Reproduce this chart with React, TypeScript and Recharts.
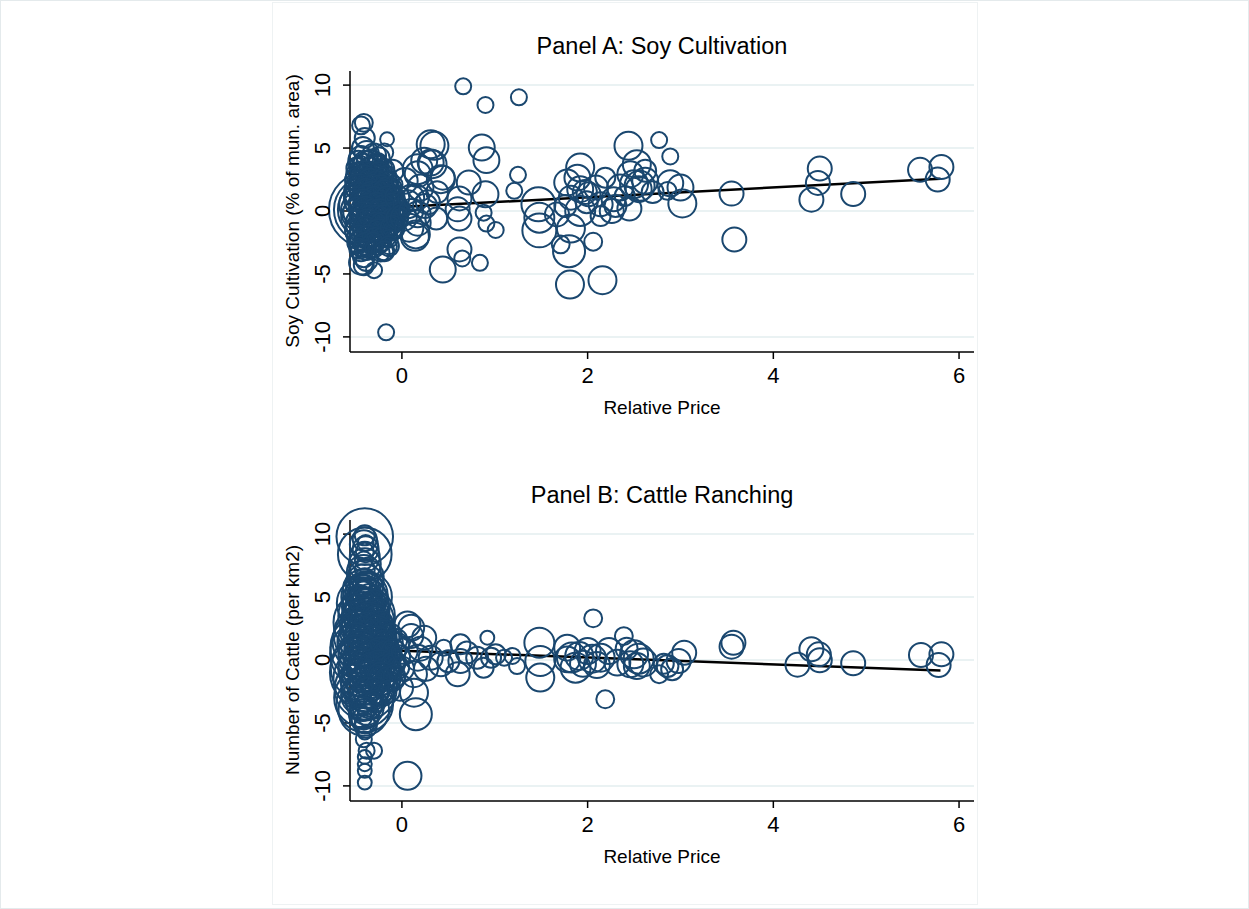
import React from 'react';
import { ScatterChart, Scatter, XAxis, YAxis, ZAxis, CartesianGrid } from 'recharts';

// [relative price, outcome, weight]
type Pt = [number, number, number];

const xTicks = [0, 2, 4, 6];
const yTicks = [-10, -5, 0, 5, 10];

// ─── Panel A data ─────────────────────────────────────────────────────────────

const soyCore: Pt[] = [
  [-0.38, 0.1, 355], [-0.38, 0.1, 267], [-0.38, 0.1, 206],
  [-0.42, 3.0, 36], [-0.35, 2.8, 49], [-0.28, 2.6, 42], [-0.22, 2.9, 30], [-0.45, 2.4, 56],
  [-0.40, 2.0, 64], [-0.33, 2.1, 49], [-0.26, 1.9, 56], [-0.18, 2.2, 36], [-0.12, 1.8, 30],
  [-0.44, 1.5, 72], [-0.36, 1.4, 64], [-0.30, 1.6, 81], [-0.22, 1.3, 49], [-0.15, 1.5, 42],
  [-0.42, 1.0, 90], [-0.34, 0.9, 72], [-0.27, 1.1, 64], [-0.20, 0.8, 56], [-0.10, 1.0, 36],
  [-0.46, 0.5, 100], [-0.38, 0.4, 81], [-0.31, 0.6, 90], [-0.24, 0.3, 64], [-0.16, 0.5, 49], [-0.08, 0.4, 36],
  [-0.43, 0.0, 110], [-0.35, -0.1, 90], [-0.28, 0.1, 72], [-0.21, -0.1, 64], [-0.13, 0.0, 42], [-0.05, 0.1, 30],
  [-0.45, -0.5, 90], [-0.37, -0.6, 81], [-0.30, -0.4, 64], [-0.23, -0.6, 56], [-0.15, -0.5, 42],
  [-0.41, -1.0, 81], [-0.33, -1.1, 64], [-0.26, -0.9, 56], [-0.19, -1.2, 42], [-0.11, -1.0, 30],
  [-0.44, -1.5, 64], [-0.36, -1.6, 56], [-0.29, -1.4, 49], [-0.22, -1.7, 36],
  [-0.40, -2.0, 56], [-0.32, -2.1, 49], [-0.25, -2.3, 36], [-0.18, -2.0, 30],
  [-0.43, -2.6, 42], [-0.35, -2.8, 36], [-0.27, -2.6, 30],
  [-0.41, -3.6, 30], [-0.44, -4.1, 36], [-0.38, -3.9, 30], [-0.41, -4.3, 25], [-0.30, -4.7, 16],
  [-0.19, -3.2, 20], [-0.14, -2.8, 16], [-0.44, -3.2, 25],
  [-0.41, 7.0, 20], [-0.44, 6.8, 20], [-0.40, 5.8, 25], [-0.42, 5.0, 30], [-0.38, 4.6, 36],
  [-0.30, 4.4, 36], [-0.25, 4.2, 30], [-0.35, 3.8, 42], [-0.44, 4.2, 36], [-0.16, 5.7, 12],
  [-0.19, 4.65, 20], [-0.28, 3.5, 42], [-0.20, 3.3, 30], [-0.10, 3.2, 30], [-0.45, 3.5, 30],
  [-0.40, 1.2, 25], [-0.32, 0.2, 25], [-0.24, -0.3, 20], [-0.36, -1.3, 25], [-0.28, 1.8, 20],
  [-0.42, -0.3, 30], [-0.18, 0.0, 25], [-0.30, -0.9, 20], [-0.38, 2.4, 25], [-0.25, 1.0, 20],
  [-0.47, 4.0, 25], [-0.40, 3.9, 30], [-0.33, 4.1, 25], [-0.26, 3.9, 20],
  [-0.48, 3.4, 30], [-0.41, 3.6, 36], [-0.34, 3.4, 30], [-0.27, 3.6, 25], [-0.20, 3.4, 20],
  [-0.47, 2.9, 36], [-0.39, 3.1, 30], [-0.32, 2.9, 36], [-0.25, 3.1, 25], [-0.17, 2.8, 25],
  [-0.48, 2.5, 36], [-0.41, 2.6, 42], [-0.34, 2.4, 36], [-0.27, 2.3, 30], [-0.20, 2.6, 25], [-0.13, 2.4, 20],
  [-0.47, 1.9, 42], [-0.38, 1.8, 36], [-0.31, 2.0, 30], [-0.23, 1.9, 36], [-0.16, 1.9, 25], [-0.09, 2.1, 20],
  [-0.48, 1.2, 42], [-0.39, 1.6, 36], [-0.33, 1.3, 42], [-0.26, 1.5, 30], [-0.19, 1.6, 30], [-0.11, 1.3, 25],
  [-0.47, 0.8, 49], [-0.37, 1.1, 36], [-0.30, 0.9, 42], [-0.23, 0.7, 36], [-0.16, 1.1, 30], [-0.07, 0.7, 25],
  [-0.42, 0.6, 49], [-0.35, 0.4, 42], [-0.27, 0.5, 36], [-0.20, 0.4, 30], [-0.12, 0.6, 25], [-0.02, 0.3, 20],
  [-0.47, -0.1, 56], [-0.39, 0.1, 42], [-0.31, -0.1, 42], [-0.24, 0.0, 36], [-0.17, -0.2, 30], [-0.09, -0.1, 25], [-0.01, 0.0, 20],
  [-0.41, -0.4, 49], [-0.34, -0.6, 42], [-0.27, -0.5, 36], [-0.19, -0.4, 30], [-0.11, -0.6, 25],
  [-0.47, -1.0, 42], [-0.37, -0.9, 42], [-0.29, -1.1, 36], [-0.22, -1.0, 30], [-0.14, -1.2, 25], [-0.07, -0.9, 20],
  [-0.48, -1.6, 36], [-0.40, -1.4, 36], [-0.32, -1.6, 30], [-0.25, -1.5, 30], [-0.17, -1.6, 25], [-0.10, -1.5, 20],
  [-0.46, -2.1, 36], [-0.37, -2.0, 30], [-0.29, -2.2, 30], [-0.21, -2.1, 25], [-0.14, -2.2, 20],
  [-0.47, -2.5, 30], [-0.39, -2.6, 30], [-0.31, -2.5, 25], [-0.23, -2.6, 20],
  [-0.46, -3.0, 25], [-0.38, -3.1, 25], [-0.30, -3.0, 20], [-0.23, -3.3, 20],
];

const soySpread: Pt[] = [
  [0.66, 9.9, 16], [0.90, 8.42, 16], [1.26, 9.03, 16], [-0.17, -9.64, 16],
  [1.25, 2.87, 16], [1.21, 1.6, 16], [1.47, 0.53, 72], [1.48, -0.53, 56], [1.48, -1.54, 72],
  [1.71, -2.65, 20], [1.80, -3.19, 64], [1.81, -5.84, 49], [2.16, -5.5, 49], [2.06, -2.44, 20],
  [2.44, 5.18, 49], [2.77, 5.63, 16], [2.89, 4.33, 16], [1.92, 3.45, 49], [1.78, 2.26, 42],
  [1.89, 2.65, 42], [1.92, 1.73, 42], [1.82, 1.06, 36], [1.82, -1.4, 49], [1.67, -0.27, 36],
  [1.92, 0.0, 56], [2.14, -0.4, 25], [2.09, 1.86, 36], [2.19, 2.65, 25], [2.28, 0.93, 36],
  [2.26, 0.0, 36], [2.35, 1.86, 42], [2.46, 2.92, 42], [2.53, 3.72, 49], [2.50, 2.13, 49],
  [2.55, 1.73, 42], [2.89, 2.2, 42], [3.0, 1.86, 42], [3.02, 0.6, 49], [2.86, 1.6, 20],
  [2.01, 1.33, 36], [2.14, 0.53, 36], [3.55, 1.38, 36], [3.58, -2.26, 36], [4.50, 3.37, 36],
  [4.48, 2.23, 36], [4.41, 0.9, 36], [4.86, 1.35, 36], [5.58, 3.27, 36], [5.81, 3.5, 36],
  [5.77, 2.5, 36], [0.31, 5.3, 49], [0.35, 5.18, 49], [0.86, 5.04, 42], [0.91, 4.04, 42],
  [0.33, 3.72, 49], [0.44, 2.65, 36], [0.72, 2.26, 36], [0.90, 1.33, 42], [0.62, 1.0, 36],
  [0.60, 0.13, 36], [0.62, -0.6, 36], [0.88, -0.13, 16], [0.91, -1.0, 16], [1.01, -1.51, 16],
  [0.62, -3.05, 36], [0.65, -3.77, 16], [0.84, -4.12, 16], [0.44, -4.65, 42], [2.62, 2.4, 42],
  [2.56, 2.0, 56], [2.40, 1.2, 25], [2.30, 0.4, 30], [1.99, 0.7, 30], [2.70, 1.5, 30],
  [1.97, 1.5, 36], [0.15, -1.86, 49], [0.17, -0.27, 42], [0.10, 1.06, 42], [0.17, 2.92, 42],
  [0.24, 4.0, 42], [0.28, 0.7, 36], [0.37, -0.6, 30], [0.38, 1.5, 30], [2.62, 3.2, 30],
  [2.45, 0.2, 36], [1.76, 0.4, 30],
  [-0.05, 1.06, 36], [-0.10, -1.33, 36], [-0.05, -0.53, 30], [0.03, 2.39, 42], [0.06, 0.53, 49],
  [0.02, -0.53, 42], [0.08, -1.33, 49], [0.14, -2.05, 49], [0.17, -0.93, 42], [0.15, 1.06, 42],
  [0.20, 1.86, 42], [0.17, 3.32, 56], [0.31, 3.85, 42], [0.42, 2.53, 49], [0.10, 0.0, 36],
  [0.25, 0.4, 36], [-0.14, -2.79, 25], [-0.19, -3.19, 25],
];

const soyFitX = [-0.5, 5.8];
const soyFitY = [0.13, 2.56];

// ─── Panel B data ─────────────────────────────────────────────────────────────

const cattleCore: Pt[] = [
  [-0.40, 0.5, 300], [-0.39, -1.5, 260], [-0.40, 2.0, 240], [-0.41, -3.0, 220], [-0.38, 3.5, 200],
  [-0.40, 9.8, 200], [-0.40, 8.4, 180], [-0.41, 1.0, 280], [-0.40, -0.6, 290], [-0.42, 4.5, 170],
  [-0.39, -2.3, 240], [-0.40, -3.5, 200], [-0.41, 3.0, 230], [-0.39, -1.0, 320], [-0.40, 1.5, 260],
  [-0.38, 5.0, 160], [-0.41, -4.0, 160],
  [-0.40, 9.9, 25], [-0.40, 9.6, 36], [-0.41, 9.2, 49], [-0.39, 8.8, 42], [-0.40, 8.2, 56],
  [-0.40, 7.6, 64], [-0.41, 7.0, 72], [-0.39, 6.6, 81], [-0.40, 6.1, 90], [-0.42, 5.6, 100],
  [-0.38, 5.2, 110], [-0.40, 4.8, 120], [-0.43, 4.2, 100], [-0.37, 3.9, 120], [-0.41, 3.2, 130],
  [-0.39, 2.7, 140], [-0.42, 2.3, 130], [-0.36, 1.8, 150], [-0.44, 1.4, 140], [-0.38, 0.9, 160],
  [-0.42, 0.3, 150], [-0.36, -0.2, 140], [-0.44, -0.7, 130], [-0.38, -1.1, 150], [-0.42, -1.8, 120],
  [-0.36, -2.2, 110], [-0.44, -2.8, 100], [-0.40, -3.3, 90], [-0.38, -3.8, 72], [-0.41, -4.3, 56],
  [-0.40, -4.8, 42], [-0.39, -5.3, 30], [-0.40, -5.77, 12], [-0.41, -6.3, 16], [-0.38, -7.2, 16],
  [-0.30, -7.2, 16], [-0.40, -7.7, 12], [-0.40, -8.28, 12], [-0.40, -8.8, 12], [-0.40, -9.74, 12],
  [-0.40, 5.5, 30], [-0.40, 4.8, 36], [-0.41, 4.0, 42], [-0.39, 3.5, 49], [-0.40, 2.8, 56],
  [-0.38, 2.1, 64], [-0.42, 1.5, 64], [-0.40, 0.8, 72], [-0.39, 0.0, 72], [-0.41, -0.8, 64],
  [-0.40, -1.6, 56], [-0.38, -2.4, 49], [-0.41, -3.1, 42], [-0.40, -3.8, 36], [-0.40, 6.5, 25],
  [-0.40, 7.2, 25], [-0.41, 7.9, 20], [-0.40, 8.6, 20], [-0.39, 9.3, 16],
  [-0.33, 1.2, 49], [-0.47, 0.8, 49], [-0.30, -0.5, 56], [-0.48, -1.0, 49], [-0.32, 2.8, 42],
  [-0.47, 3.0, 42], [-0.31, -2.0, 42], [-0.48, -2.5, 42], [-0.33, 4.5, 36], [-0.46, 5.0, 36],
  [-0.34, 0.2, 64], [-0.46, 0.2, 64], [-0.28, 0.8, 42], [-0.26, -1.2, 42], [-0.24, 0.3, 36],
  [-0.22, -0.4, 30], [-0.18, 1.0, 36], [-0.15, -0.8, 36], [-0.12, 0.5, 30], [-0.08, -0.2, 30],
  [-0.05, 1.2, 36], [-0.28, 2.0, 36], [-0.27, -2.6, 36], [-0.20, -1.9, 30], [-0.20, 2.4, 30],
  [-0.10, -1.5, 36], [0.0, -0.7, 36], [-0.02, -2.2, 42],
  [-0.44, 6.0, 30], [-0.37, 6.1, 30], [-0.40, 5.8, 36],
  [-0.45, 5.4, 36], [-0.36, 5.6, 36], [-0.41, 5.2, 42],
  [-0.46, 4.9, 42], [-0.35, 5.0, 42], [-0.40, 4.5, 49], [-0.30, 4.7, 30],
  [-0.47, 4.1, 49], [-0.34, 4.0, 49], [-0.41, 3.8, 56], [-0.28, 3.9, 36],
  [-0.48, 3.5, 56], [-0.35, 3.4, 56], [-0.42, 3.1, 56], [-0.27, 3.3, 42], [-0.22, 3.0, 30],
  [-0.49, 2.6, 64], [-0.36, 2.5, 64], [-0.43, 2.2, 64], [-0.26, 2.4, 49], [-0.19, 2.2, 36], [-0.12, 2.0, 30],
  [-0.50, 1.6, 72], [-0.37, 1.4, 72], [-0.44, 1.1, 64], [-0.27, 1.5, 56], [-0.20, 1.3, 42], [-0.12, 1.4, 36], [-0.06, 1.6, 30],
  [-0.50, 0.6, 72], [-0.38, 0.5, 72], [-0.31, 0.3, 64], [-0.23, 0.6, 56], [-0.16, 0.4, 49], [-0.09, 0.7, 36], [-0.03, 0.3, 30],
  [-0.50, -0.4, 72], [-0.40, -0.5, 64], [-0.32, -0.7, 64], [-0.24, -0.4, 56], [-0.17, -0.6, 42], [-0.10, -0.4, 36], [-0.04, -0.6, 30],
  [-0.49, -1.6, 64], [-0.37, -1.4, 64], [-0.29, -1.6, 56], [-0.22, -1.3, 49], [-0.15, -1.5, 36], [-0.08, -1.3, 30],
  [-0.48, -2.4, 56], [-0.36, -2.6, 56], [-0.28, -2.4, 42], [-0.21, -2.7, 36], [-0.14, -2.5, 30],
  [-0.46, -3.4, 42], [-0.35, -3.6, 42], [-0.29, -3.3, 30], [-0.42, -3.9, 36],
  [-0.44, -4.5, 30], [-0.36, -4.4, 30], [-0.40, -5.0, 25],
];

const cattleSpread: Pt[] = [
  [2.06, 3.31, 20], [2.19, -3.12, 20], [3.57, 1.37, 36], [3.55, 1.06, 36], [1.48, 1.37, 56],
  [1.49, -1.4, 49], [1.49, -0.08, 56], [1.24, -0.48, 16], [1.19, 0.32, 16], [1.78, 0.98, 42],
  [1.78, 0.05, 42], [1.87, -0.61, 56], [1.91, 0.32, 49], [2.0, 0.71, 42], [2.14, 0.18, 49],
  [2.23, 0.71, 42], [2.39, 1.9, 20], [2.32, -0.21, 42], [2.5, 0.45, 49], [2.53, -0.48, 42],
  [2.46, -0.34, 42], [2.77, -1.13, 20], [2.86, -0.48, 30], [2.91, -0.74, 30], [3.04, 0.58, 36],
  [2.98, -0.08, 36], [1.01, 0.45, 25], [0.06, 2.83, 42], [0.10, 1.9, 36], [0.24, 1.77, 36],
  [0.17, 0.18, 42], [0.03, 0.71, 42], [0.13, -1.13, 42], [0.31, 0.18, 36], [0.45, 0.98, 16],
  [0.60, -1.13, 36], [0.63, 1.25, 25], [0.63, -0.08, 36], [0.81, 0.18, 30], [0.92, 1.77, 12],
  [0.88, -0.61, 25], [0.96, 0.18, 25], [0.42, -0.34, 36], [1.10, 0.18, 16], [4.26, -0.37, 36],
  [4.41, 0.85, 36], [4.49, 0.45, 36], [4.50, -0.02, 36], [4.86, -0.26, 36], [5.59, 0.4, 36],
  [5.81, 0.45, 36], [5.78, -0.4, 36], [0.06, -9.2, 49], [0.15, -4.31, 64], [0.13, -2.6, 49],
  [0.10, 2.56, 42], [1.83, 0.2, 56], [2.05, 0.1, 49], [2.10, -0.4, 42], [2.55, 0.1, 56],
  [2.60, -0.2, 49], [1.95, -0.3, 42], [0.70, 0.6, 30], [0.50, -0.1, 30], [0.26, -0.7, 36],
  [0.20, 0.9, 36], [2.82, -0.3, 25], [2.42, 0.9, 30],
];

const cattleFitX = [-0.5, 5.8];
const cattleFitY = [0.87, -0.83];

// ─── Styling ──────────────────────────────────────────────────────────────────

const NAVY = '#1a476f';
const FONT = '"Liberation Sans", Arial, Helvetica, sans-serif';
const GRID = '#eaf2f3';

const XTick = (props: any) => {
  const { x, y, payload } = props;
  return (
    <text x={x} y={y + 22} textAnchor="middle" fontSize={22} fontFamily={FONT} fill="#000">
      {payload.value}
    </text>
  );
};

const YTick = (props: any) => {
  const { x, y, payload } = props;
  return (
    <text
      x={x}
      y={y}
      transform={`rotate(-90 ${x} ${y})`}
      textAnchor="middle"
      fontSize={22}
      fontFamily={FONT}
      fill="#000"
    >
      {payload.value}
    </text>
  );
};

interface PanelProps {
  top: number;
  title: string;
  yLabel: string;
  core: Pt[];
  spread: Pt[];
  fitX: number[];
  fitY: number[];
}

const Panel: React.FC<PanelProps> = ({ top, title, yLabel, core, spread, fitX, fitY }) => {
  const points = [...core, ...spread].map(([x, y, w]) => ({ x, y, w }));
  const fit = fitX.map((x, i) => ({ x, y: fitY[i], w: 0 }));
  const axisStyle = { stroke: '#000', strokeWidth: 1.5 };

  return (
    <div style={{ position: 'absolute', left: 272, top, width: 705, height: 450 }}>
      <ScatterChart width={705} height={450} margin={{ top: 70, right: 4, bottom: 69, left: 37 }}>
        <CartesianGrid vertical={false} syncWithTicks stroke={GRID} strokeWidth={2} />
        <XAxis
          type="number"
          dataKey="x"
          domain={[-0.559, 6.161]}
          ticks={xTicks}
          height={30}
          tickSize={7}
          tickMargin={2}
          tick={<XTick />}
          axisLine={axisStyle}
          tickLine={axisStyle}
        />
        <YAxis
          type="number"
          dataKey="y"
          domain={[-11.2, 11.12]}
          ticks={yTicks}
          width={40}
          tickSize={7}
          tickMargin={13}
          tick={<YTick />}
          axisLine={axisStyle}
          tickLine={axisStyle}
        />
        <ZAxis type="number" dataKey="w" domain={[0, 400]} range={[0, 5027]} />
        <Scatter
          data={fit}
          line={{ stroke: '#000', strokeWidth: 2.5 }}
          shape={() => <g />}
          isAnimationActive={false}
        />
        <Scatter
          data={points}
          shape="circle"
          fill="none"
          stroke={NAVY}
          strokeWidth={2}
          isAnimationActive={false}
        />
      </ScatterChart>
      <svg
        width={705}
        height={450}
        style={{ position: 'absolute', left: 0, top: 0, pointerEvents: 'none' }}
      >
        <text x={389} y={53} textAnchor="middle" fontSize={23.5} fontFamily={FONT} fill="#000">
          {title}
        </text>
        <text x={389} y={413} textAnchor="middle" fontSize={19} fontFamily={FONT} fill="#000">
          Relative Price
        </text>
        <text
          x={26}
          y={210}
          transform="rotate(-90 26 210)"
          textAnchor="middle"
          fontSize={19}
          fontFamily={FONT}
          fill="#000"
        >
          {yLabel}
        </text>
      </svg>
    </div>
  );
};

export default function App() {
  return (
    <div
      style={{
        position: 'absolute',
        left: 0,
        top: 0,
        width: 1249,
        height: 909,
        background: '#fff',
        border: '1px solid #e4eaec',
        boxSizing: 'border-box',
        overflow: 'hidden',
      }}
    >
      <div
        style={{
          position: 'absolute',
          left: 271,
          top: 1,
          width: 706,
          height: 903,
          border: '1px solid #eef2f3',
          boxSizing: 'border-box',
        }}
      />
      <Panel
        top={0}
        title="Panel A: Soy Cultivation"
        yLabel="Soy Cultivation (% of mun. area)"
        core={soyCore}
        spread={soySpread}
        fitX={soyFitX}
        fitY={soyFitY}
      />
      <Panel
        top={449}
        title="Panel B: Cattle Ranching"
        yLabel="Number of Cattle (per km2)"
        core={cattleCore}
        spread={cattleSpread}
        fitX={cattleFitX}
        fitY={cattleFitY}
      />
    </div>
  );
}
